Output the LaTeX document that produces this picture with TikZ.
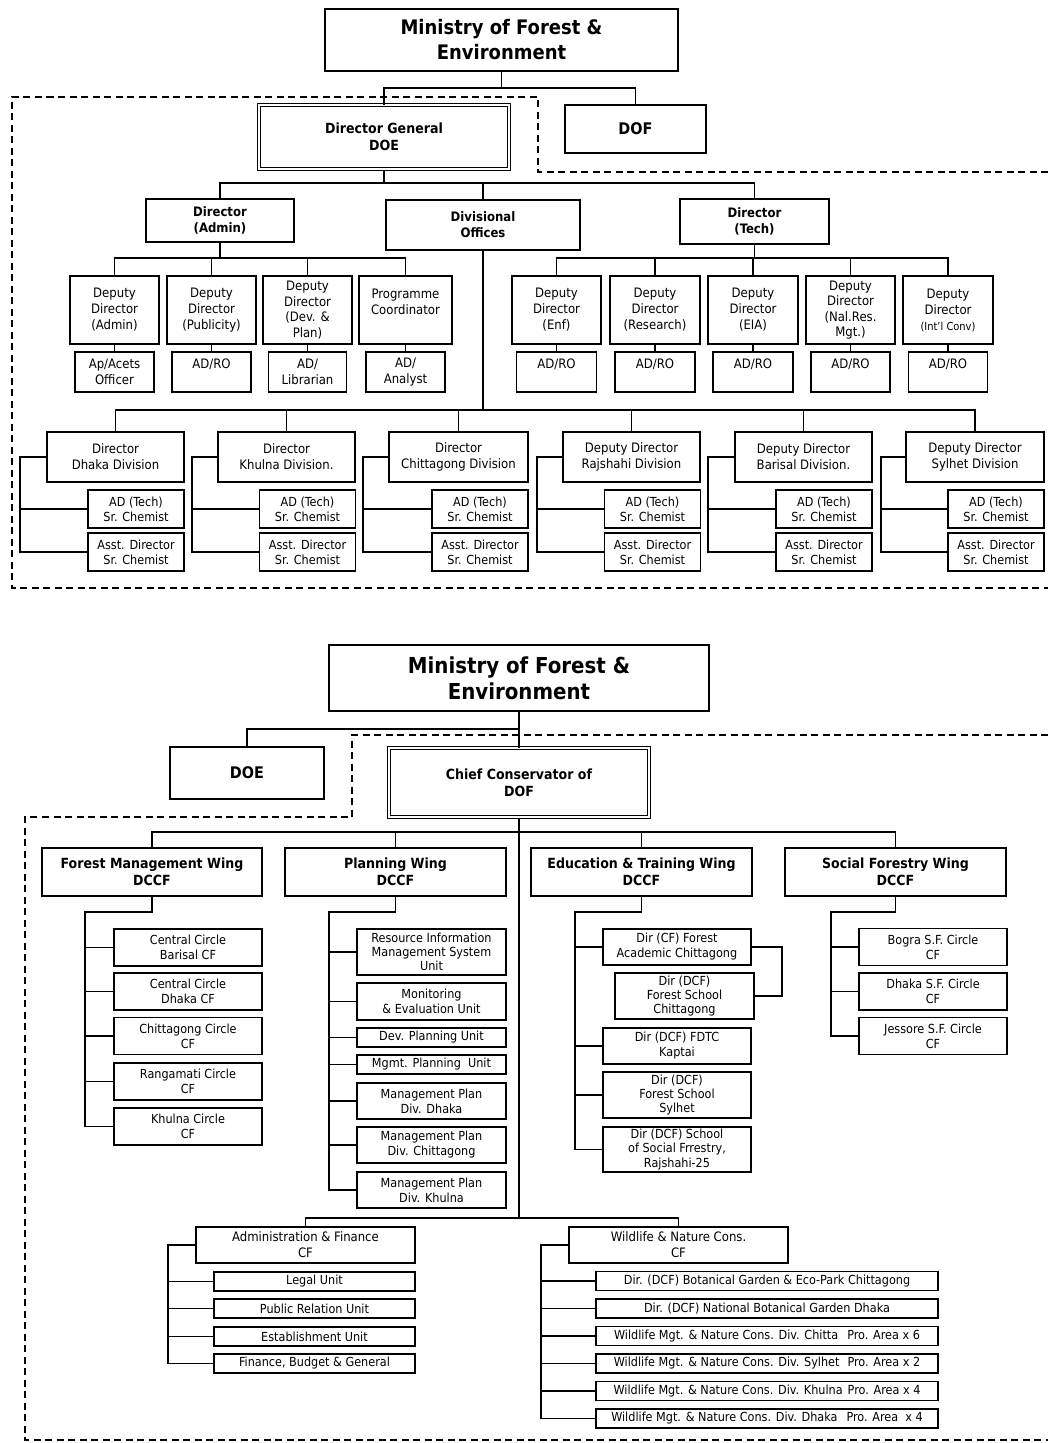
\documentclass[tikz,border=0pt]{standalone}
\usepackage{fontspec}
\setmainfont{DejaVu Sans Condensed}[BoldFont={DejaVu Sans Condensed Bold}]
\usetikzlibrary{calc,positioning}

\begin{document}
\begin{tikzpicture}[x=1pt,y=-1pt,line width=1.1pt,
box/.style={draw,align=center,inner sep=0pt,font=\fontsize{13}{16}\selectfont},
wh/.style 2 args={minimum width=#1,minimum height=#2},
sm/.style={font=\fontsize{12.5}{15}\selectfont},
tri/.style={font=\fontsize{12.5}{14.2}\selectfont},
xs/.style={font=\fontsize{12.5}{14}\selectfont},
hd/.style={font=\bfseries\fontsize{14}{17}\selectfont},
big/.style={font=\bfseries\fontsize{20}{25}\selectfont},
dbl/.style={double,double distance=2.2pt,line width=1pt},
brd/.style={line width=2pt,dash pattern=on 7pt off 4.5pt},]
\fill[white] (0,0) rectangle (1048,1443);
\node (min1) at (501.5,40)[box,big,wh={353}{62}] {Ministry of Forest \&\\Environment};
\node (dg) at (384,137)[box,hd,dbl,wh={250}{64}] {Director General\\DOE};
\node (dof) at (635.5,129)[box,hd,font=\bfseries\fontsize{16}{19}\selectfont,wh={141}{48}] {DOF};
\node (dad) at (220,220.5)[box,hd,font=\bfseries\fontsize{13}{16}\selectfont,wh={148}{43}] {Director\\(Admin)};
\node (dvo) at (483,225)[box,hd,font=\bfseries\fontsize{13}{16}\selectfont,wh={194}{50}] {Divisional\\Offices};
\node (dte) at (754.5,221.5)[box,hd,font=\bfseries\fontsize{13}{16}\selectfont,wh={149}{45}] {Director\\(Tech)};
\node (dd1) at (114.5,310)[box,wh={89}{68}] {Deputy\\Director\\(Admin)};
\node (dd2) at (211.5,310)[box,wh={89}{68}] {Deputy\\Director\\(Publicity)};
\node (dd3) at (307.5,310)[box,font=\fontsize{13}{15.5}\selectfont,wh={89}{68}] {Deputy\\Director\\(Dev. \&\\Plan)};
\node (dd4) at (405.5,310)[box,wh={93}{68}] {Programme\\Coordinator\\\phantom{X}};
\node (dd5) at (556.5,310)[box,wh={89}{68}] {Deputy\\Director\\(Enf)};
\node (dd6) at (655,310)[box,wh={90}{68}] {Deputy\\Director\\(Research)};
\node (dd7) at (753,310)[box,wh={90}{68}] {Deputy\\Director\\(EIA)};
\node (dd8) at (850.5,310)[box,font=\fontsize{13}{15.5}\selectfont,wh={89}{68}] {Deputy\\Director\\(Nal.Res.\\Mgt.)};
\node (dd9) at (948,310)[box,wh={90}{68}] {Deputy\\Director\\{\fontsize{11}{16}\selectfont (Int'l Conv)}};
\node (ad1) at (114.5,372)[box,wh={79}{40}] {Ap/Acets\\Officer};
\node (ad2) at (211.5,372)[box,wh={79}{40}] {AD/RO\\\phantom{X}};
\node (ad3) at (307.5,372)[box,wh={78}{40}] {AD/\\Librarian};
\node (ad4) at (405.5,372)[box,wh={79}{40}] {AD/\\Analyst};
\node (ad5) at (556.5,372)[box,wh={80}{40}] {AD/RO\\\phantom{X}};
\node (ad6) at (655,372)[box,wh={80}{40}] {AD/RO\\\phantom{X}};
\node (ad7) at (753,372)[box,wh={80}{40}] {AD/RO\\\phantom{X}};
\node (ad8) at (850.5,372)[box,wh={79}{40}] {AD/RO\\\phantom{X}};
\node (ad9) at (948,372)[box,wh={79}{40}] {AD/RO\\\phantom{X}};
\node (dv1) at (115.5,457)[box,wh={137}{50}] {Director\\Dhaka Division};
\node (dv2) at (286.5,457)[box,wh={137}{50}] {Director\\Khulna Division.};
\node (dv3) at (458.5,457)[box,wh={139}{50}] {Director\\Chittagong Division};
\node (dv4) at (631.5,457)[box,wh={137}{50}] {Deputy Director\\Rajshahi Division};
\node (dv5) at (803.5,457)[box,wh={137}{50}] {Deputy Director\\Barisal Division.};
\node (dv6) at (975,457)[box,wh={138}{50}] {Deputy Director\\Sylhet Division};
\foreach \i/\cx in {1/136,2/307.5,3/480,4/652.5,5/824,6/996}{
\node (ta\i) at (\cx,509)[box,sm,wh={96}{38}] {AD (Tech)\\Sr. Chemist};
\node (tb\i) at (\cx,552)[box,sm,wh={96}{38}] {Asst. Director\\Sr. Chemist};
}
\coordinate (busA) at (0,88);
\coordinate (busB) at (0,183);
\coordinate (busC) at (0,258);
\coordinate (busD) at (0,410);
\draw (min1.south) -- (min1.south |- busA);
\draw (dg.north) -- (dg.north |- busA) -| (dof.north);
\draw (dg.south) -- (dg.south |- busB);
\draw (dad.north) -- (dad.north |- busB) -| (dte.north);
\draw (dvo.north) -- (dvo.north |- busB);
\draw (dad.south) -- (dad.south |- busC);
\draw (dd1.north) -- (dd1.north |- busC) -| (dd4.north);
\draw (dte.south) -- (dte.south |- busC);
\draw (dd5.north) -- (dd5.north |- busC) -| (dd9.north);
\foreach \n in {dd2,dd3,dd6,dd7,dd8}
\draw (\n.north) -- (\n.north |- busC);
\foreach \i in {1,...,9}
\draw (dd\i.south) -- (ad\i.north);
\draw (dvo.south) -- (dvo.south |- busD);
\draw (dv1.north) -- (dv1.north |- busD) -| (dv6.north);
\foreach \n in {dv2,dv3,dv4,dv5}
\draw (\n.north) -- (\n.north |- busD);
\foreach \i/\sx in {1/20,2/192,3/363,4/537,5/708,6/881}{
\coordinate (sp\i) at (\sx,0);
\draw (dv\i.west) -- (dv\i.west -| sp\i) |- (tb\i.west);
\draw (sp\i |- ta\i.west) -- (ta\i.west);
}
\draw[brd] (1048,172) -- (538,172) -- (538,97) -- (12,97) -- (12,588) -- (1048,588);
\node (min2) at (519,678)[box,big,font=\bfseries\fontsize{22}{26}\selectfont,wh={380}{66}] {Ministry of Forest \&\\Environment};
\node (doe) at (247,773)[box,hd,font=\bfseries\fontsize{16}{19}\selectfont,wh={154}{52}] {DOE};
\node (cc) at (519,782.5)[box,hd,dbl,wh={260}{69}] {Chief Conservator of\\DOF};
\node (w1) at (152,872)[box,hd,wh={220}{48}] {Forest Management Wing\\DCCF};
\node (w2) at (395.5,872)[box,hd,wh={221}{48}] {Planning Wing\\DCCF};
\node (w3) at (641.5,872)[box,hd,wh={221}{48}] {Education \& Training Wing\\DCCF};
\node (w4) at (895.5,872)[box,hd,wh={221}{48}] {Social Forestry Wing\\DCCF};
\node (f1) at (188,947.5)[box,sm,wh={148}{37}] {Central Circle\\Barisal CF};
\node (f2) at (188,991.5)[box,sm,wh={148}{37}] {Central Circle\\Dhaka CF};
\node (f3) at (188,1036)[box,sm,wh={148}{37}] {Chittagong Circle\\CF};
\node (f4) at (188,1081.5)[box,sm,wh={148}{37}] {Rangamati Circle\\CF};
\node (f5) at (188,1126.5)[box,sm,wh={148}{37}] {Khulna Circle\\CF};
\node (p1) at (431.5,952)[box,tri,wh={149}{46}] {Resource Information\\Management System\\Unit};
\node (p2) at (431.5,1001.5)[box,sm,wh={149}{37}] {Monitoring\\\& Evaluation Unit};
\node (p3) at (431.5,1037.5)[box,sm,wh={149}{19}] {Dev. Planning Unit};
\node (p4) at (431.5,1064.5)[box,sm,wh={149}{19}] {Mgmt. Planning~ Unit};
\node (p5) at (431.5,1101)[box,sm,wh={149}{36}] {Management Plan\\Div. Dhaka};
\node (p6) at (431.5,1145)[box,sm,wh={149}{36}] {Management Plan\\Div. Chittagong};
\node (p7) at (431.5,1190)[box,sm,wh={149}{36}] {Management Plan\\Div. Khulna};
\node (e1) at (677,947)[box,sm,wh={148}{36}] {Dir (CF) Forest\\Academic Chittagong};
\node (e2) at (684.5,996)[box,tri,wh={139}{46}] {Dir (DCF)\\Forest School\\Chittagong};
\node (e3) at (677,1046)[box,sm,wh={148}{36}] {Dir (DCF) FDTC\\Kaptai};
\node (e4) at (677,1095)[box,tri,wh={148}{46}] {Dir (DCF)\\Forest School\\Sylhet};
\node (e5) at (677,1149.5)[box,tri,wh={148}{45}] {Dir (DCF) School\\of Social Frrestry,\\Rajshahi-25};
\node (s1) at (933,947)[box,sm,wh={148}{37}] {Bogra S.F. Circle\\CF};
\node (s2) at (933,991.5)[box,sm,wh={148}{37}] {Dhaka S.F. Circle\\CF};
\node (s3) at (933,1036)[box,sm,wh={148}{37}] {Jessore S.F. Circle\\CF};
\node (af) at (305.5,1245)[box,wh={219}{36}] {Administration \& Finance\\CF};
\node (wl) at (678.5,1245)[box,wh={219}{36}] {Wildlife \& Nature Cons.\\CF};
\node (a1) at (314.5,1281.5)[box,sm,wh={201}{19}] {Legal Unit};
\node (a2) at (314.5,1308.5)[box,sm,wh={201}{19}] {Public Relation Unit};
\node (a3) at (314.5,1336.5)[box,sm,wh={201}{19}] {Establishment Unit};
\node (a4) at (314.5,1363.5)[box,sm,wh={201}{19}] {Finance, Budget \& General};
\node (b1) at (767,1281)[box,xs,wh={342}{19}] {Dir. (DCF) Botanical Garden \& Eco-Park Chittagong};
\node (b2) at (767,1308.5)[box,xs,wh={342}{19}] {Dir. (DCF) National Botanical Garden Dhaka};
\node (b3) at (767,1336)[box,xs,wh={342}{19}] {Wildlife Mgt. \& Nature Cons. Div. Chitta\hspace{9pt}Pro. Area x 6};
\node (b4) at (767,1363.5)[box,xs,wh={342}{19}] {Wildlife Mgt. \& Nature Cons. Div. Sylhet\hspace{8pt}Pro. Area x 2};
\node (b5) at (767,1391)[box,xs,wh={342}{19}] {Wildlife Mgt. \& Nature Cons. Div. Khulna\hspace{5pt}Pro. Area x 4};
\node (b6) at (767,1418.5)[box,xs,wh={342}{19}] {Wildlife Mgt. \& Nature Cons. Div. Dhaka\hspace{9pt}Pro. Area~ x 4};
\coordinate (busE) at (0,729);
\coordinate (busF) at (0,832);
\coordinate (busG) at (0,1218);
\coordinate (spF) at (85,912);
\coordinate (spP) at (329,912);
\coordinate (spE) at (575,912);
\coordinate (spS) at (831,912);
\coordinate (brE) at (782,0);
\coordinate (spA) at (168,0);
\coordinate (spW) at (541,0);
\draw (min2.south) -- (cc.north);
\draw (doe.north) |- (min2.south |- busE);
\draw (cc.south) -- (cc.south |- busG);
\draw (w1.north) -- (w1.north |- busF) -| (w4.north);
\draw (w2.north) -- (w2.north |- busF);
\draw (w3.north) -- (w3.north |- busF);
\draw (w1.south) |- (spF) -- (spF |- f5.west) -- (f5.west);
\foreach \n in {f1,f2,f3,f4}
\draw (spF |- \n.west) -- (\n.west);
\draw (w2.south) |- (spP) -- (spP |- p7.west) -- (p7.west);
\foreach \n in {p1,p2,p3,p4,p5,p6}
\draw (spP |- \n.west) -- (\n.west);
\draw (w3.south) |- (spE) -- (spE |- e5.west) -- (e5.west);
\foreach \n in {e1,e3,e4}
\draw (spE |- \n.west) -- (\n.west);
\draw (e1.east) -- (e1.east -| brE) |- (e2.east);
\draw (w4.south) |- (spS) -- (spS |- s3.west) -- (s3.west);
\foreach \n in {s1,s2}
\draw (spS |- \n.west) -- (\n.west);
\draw (af.north) -- (af.north |- busG) -| (wl.north);
\draw (af.west) -- (af.west -| spA) |- (a4.west);
\foreach \n in {a1,a2,a3}
\draw (spA |- \n.west) -- (\n.west);
\draw (wl.west) -- (wl.west -| spW) |- (b6.west);
\foreach \n in {b1,b2,b3,b4,b5}
\draw (spW |- \n.west) -- (\n.west);
\draw[brd] (1048,735) -- (352,735) -- (352,817) -- (25,817) -- (25,1440) -- (1048,1440);
\end{tikzpicture}
\end{document}
